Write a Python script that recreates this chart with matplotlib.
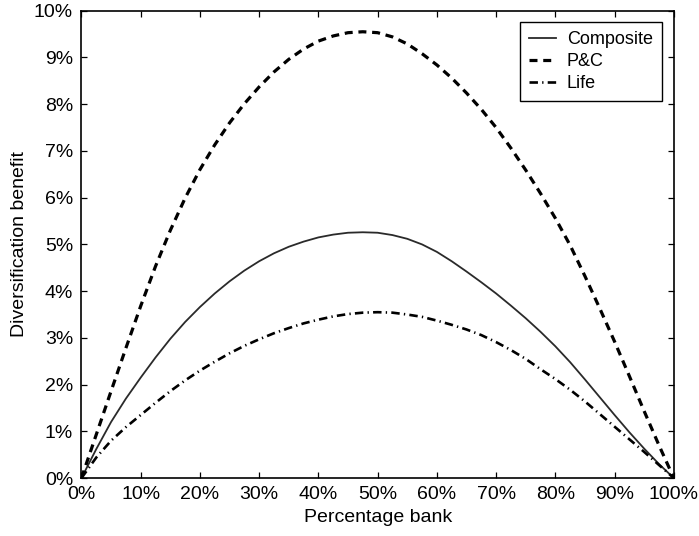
import matplotlib
matplotlib.use("Agg")
import matplotlib.pyplot as plt
from matplotlib.ticker import FuncFormatter

# percentage invested in the bank (x axis)
pct_bank = [0, 2.5, 5, 7.5, 10, 12.5, 15, 17.5, 20, 22.5, 25, 27.5, 30, 32.5, 35,
            37.5, 40, 42.5, 45, 47.5, 50, 52.5, 55, 57.5, 60, 62.5, 65, 67.5, 70,
            72.5, 75, 77.5, 80, 82.5, 85, 87.5, 90, 92.5, 95, 97.5, 100]

# diversification benefit (%)
composite = [0, 0.62, 1.20, 1.70, 2.15, 2.58, 2.98, 3.34, 3.66, 3.95, 4.21, 4.44,
             4.64, 4.81, 4.95, 5.06, 5.15, 5.21, 5.25, 5.26, 5.25, 5.20, 5.12, 5.00,
             4.84, 4.64, 4.42, 4.19, 3.95, 3.69, 3.42, 3.13, 2.82, 2.48, 2.11, 1.73,
             1.35, 0.98, 0.63, 0.30, 0]
pnc = [0, 0.93, 1.86, 2.78, 3.68, 4.53, 5.30, 5.99, 6.60, 7.13, 7.60, 8.01, 8.37,
       8.69, 8.96, 9.18, 9.35, 9.46, 9.53, 9.55, 9.53, 9.44, 9.29, 9.08, 8.84, 8.56,
       8.24, 7.89, 7.50, 7.06, 6.59, 6.09, 5.56, 4.98, 4.32, 3.63, 2.92, 2.18, 1.43,
       0.70, 0]
life = [0, 0.44, 0.80, 1.09, 1.35, 1.61, 1.86, 2.09, 2.30, 2.49, 2.67, 2.83, 2.97,
        3.10, 3.21, 3.31, 3.39, 3.46, 3.51, 3.54, 3.55, 3.54, 3.50, 3.45, 3.37, 3.28,
        3.18, 3.06, 2.91, 2.74, 2.55, 2.33, 2.12, 1.89, 1.64, 1.37, 1.10, 0.83, 0.56,
        0.28, 0]

plt.rcParams['font.family'] = ['Liberation Sans', 'DejaVu Sans']

fig = plt.figure(figsize=(6.99, 5.36), dpi=100)
ax = fig.add_axes([0.1165, 0.108, 0.8475, 0.872])

ax.plot(pct_bank, composite, color='#2a2a2a', lw=1.3, label='Composite')
ax.plot(pct_bank, pnc, color='black', lw=2.3, dashes=(2.5, 1.8), label='P&C')
ax.plot(pct_bank, life, color='black', lw=1.9, dashes=(3.2, 1.6, 0.5, 1.6), label='Life')

ax.set_xlim(0, 100)
ax.set_ylim(0, 10)
ax.set_xticks(range(0, 101, 10))
ax.set_yticks(range(0, 11, 1))
pct = FuncFormatter(lambda v, p: f"{v:.0f}%")
ax.xaxis.set_major_formatter(pct)
ax.yaxis.set_major_formatter(pct)

ax.tick_params(direction='in', top=True, right=True, length=4, width=0.9,
               labelsize=14, pad=6)
for s in ax.spines.values():
    s.set_linewidth(1.2)

ax.set_xlabel('Percentage bank', fontsize=14, labelpad=4)
ax.set_ylabel('Diversification benefit', fontsize=14, labelpad=4)

leg = ax.legend(loc='upper right', bbox_to_anchor=(0.980, 0.976), borderaxespad=0,
                fontsize=13, handlelength=1.5, handletextpad=0.6, borderpad=0.5,
                labelspacing=0.28, fancybox=False, framealpha=1)
leg.get_frame().set_edgecolor('black')
leg.get_frame().set_linewidth(1.0)

fig.savefig('out.png', dpi=100)
